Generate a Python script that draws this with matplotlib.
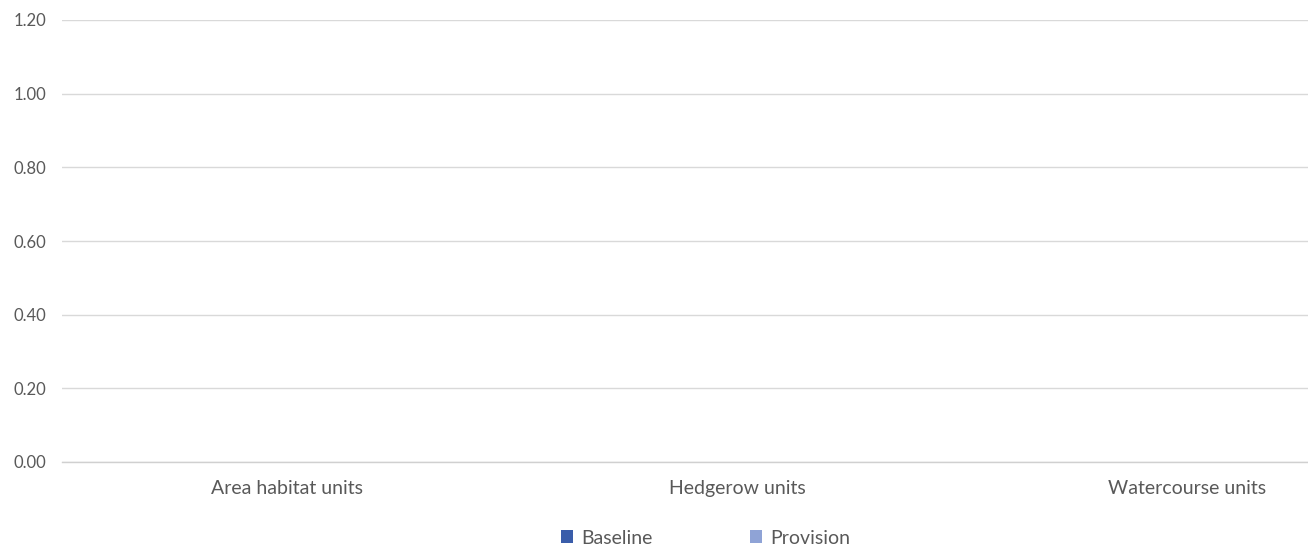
import numpy as np
import matplotlib.pyplot as plt

# data
categories = ["Area habitat units", "Hedgerow units", "Watercourse units"]
baseline = [0.0, 0.0, 0.0]
provision = [0.0, 0.0, 0.0]
yticks = [0.0, 0.2, 0.4, 0.6, 0.8, 1.0, 1.2]

plt.rcParams['font.family'] = ['Lato', 'DejaVu Sans']
grey = "#595959"

fig = plt.figure(figsize=(13.08, 5.49), dpi=100)
# chart is wider than the picture (right side cut off)
ax = fig.add_axes([62/1308, 1 - 462/549, 1350/1308, (462 - 20)/549])

x = np.arange(len(categories))
w = 0.3
b1 = ax.bar(x - w/2, baseline, w, color="#3A5DAA", label="Baseline")
b2 = ax.bar(x + w/2, provision, w, color="#8FA3D6", label="Provision")

ax.set_xlim(-0.5, 2.5)
ax.set_ylim(0, 1.2)
ax.set_yticks(yticks)
ax.set_yticklabels([f"{v:.2f}" for v in yticks], color=grey, fontsize=12)
ax.set_xticks(x)
ax.set_xticklabels(categories, color=grey, fontsize=14)
ax.tick_params(length=0)
ax.tick_params(axis="y", pad=11)
ax.tick_params(axis="x", pad=13)

ax.grid(axis="y", color="#D9D9D9", linewidth=1)
ax.set_axisbelow(True)
for s in ["top", "right", "left"]:
    ax.spines[s].set_visible(False)
ax.spines["bottom"].set_color("#D0D0D0")
ax.spines["bottom"].set_linewidth(1)

leg = fig.legend(handles=[b1, b2], loc="center", bbox_to_anchor=(706/1308, 1 - 538/549),
                 ncol=2, frameon=False, fontsize=14, handlelength=0.6, handleheight=0.6,
                 handletextpad=0.45, columnspacing=5.0)
for t in leg.get_texts():
    t.set_color(grey)

fig.savefig("out.png", dpi=100)
